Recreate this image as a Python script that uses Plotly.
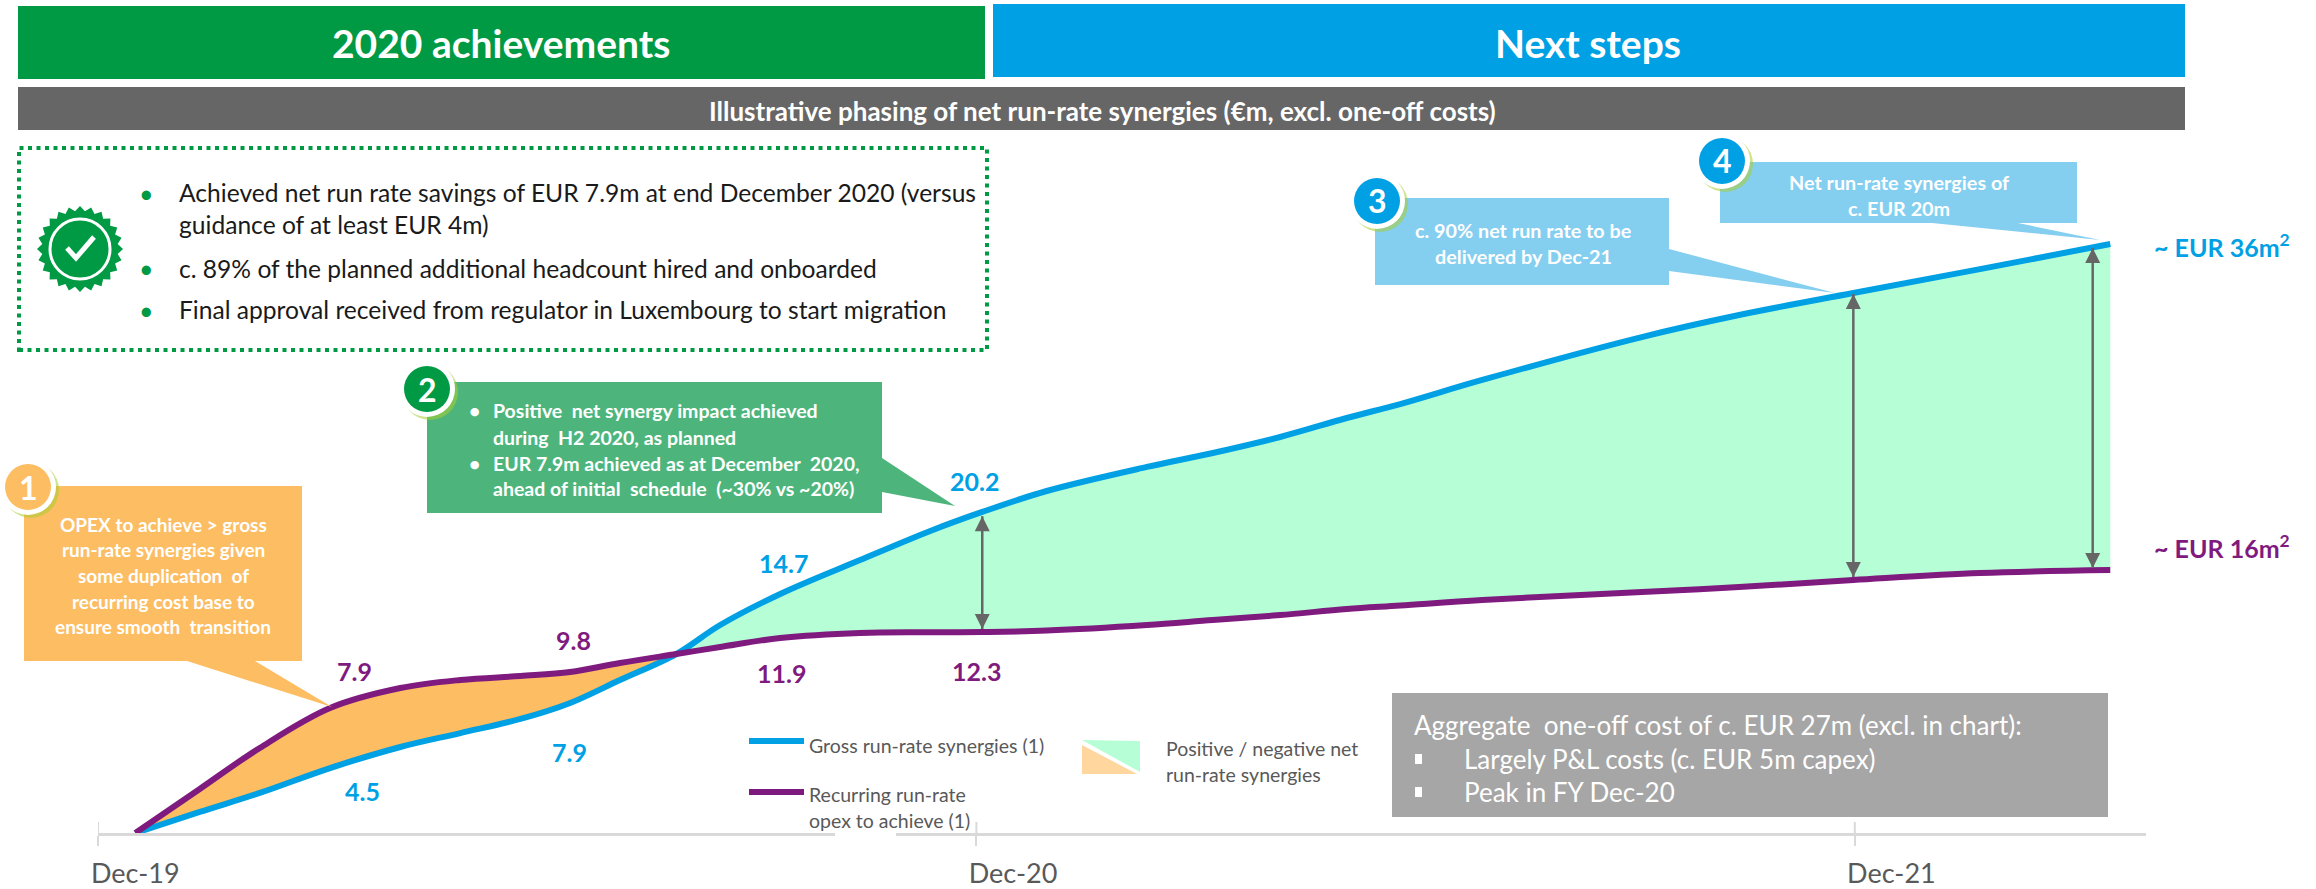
import math
import plotly.graph_objects as go

# ---------- data ----------
months = [0.51, 1.39, 2.21, 3.17, 4.13, 4.95, 5.77, 6.45, 7.13, 7.90, 8.50, 9.32, 10.41, 11.37,
          12.08, 12.96, 14.33, 15.23, 16.15, 17.06, 17.79, 18.91, 21.09, 22.42, 23.98, 25.71, 27.49]
gross = [0, 1.33, 2.53, 4.10, 5.43, 6.31, 7.20, 8.21, 9.66, 11.30, 13.13, 15.09, 17.23, 19.07,
         20.27, 21.59, 23.11, 23.99, 25.0, 26.2, 27.08, 28.6, 31.31, 32.7, 34.09, 35.6, 37.18]
recurring = [0, 2.78, 5.37, 7.89, 9.15, 9.66, 9.91, 10.16, 10.73, 11.30, 11.74, 12.31, 12.63, 12.67,
             12.69, 12.78, 13.13, 13.45, 13.76, 14.14, 14.36, 14.71, 15.21, 15.53, 15.97, 16.41, 16.6]
cross_idx = 9
tick_positions = [0, 12, 24]
label_positions = [0.51, 12.5, 24.5]
tick_labels = ["Dec-19", "Dec-20", "Dec-21"]
arrow_x = [12.08, 23.98, 27.25]
arrow_top = [20.0, 34.03, 36.93]
arrow_bottom = [12.88, 16.16, 16.73]
gross_labels = [("4.5", 362, 791), ("7.9", 569, 752), ("14.7", 783, 563), ("20.2", 974, 481)]
recurring_labels = [("7.9", 354, 671), ("9.8", 573, 640), ("11.9", 781, 673), ("12.3", 976, 671)]

BLUE, PURPLE, GREEN = "#00A1E4", "#7F1B7F", "#009A44"
FILL_G, FILL_O = "#B6FFD6", "#FDBD62"
FONT = "Lato"
L, R, BOTTOM, W, H = 98, 2146, 833, 2316, 889
PX_PER_MONTH, PX_PER_UNIT = 73.2, 15.84


def X(p):
    return (p - L) / (R - L)


def Y(p):
    return (BOTTOM - p) / BOTTOM


fig = go.Figure()
hidden = dict(width=0, shape="spline")
fig.add_trace(go.Scatter(x=months[:cross_idx + 1], y=gross[:cross_idx + 1], mode="lines", line=hidden,
                         hoverinfo="skip", showlegend=False))
fig.add_trace(go.Scatter(x=months[:cross_idx + 1], y=recurring[:cross_idx + 1], mode="lines", line=hidden,
                         fill="tonexty", fillcolor=FILL_O, hoverinfo="skip", showlegend=False))
fig.add_trace(go.Scatter(x=months[cross_idx:], y=recurring[cross_idx:], mode="lines", line=hidden,
                         hoverinfo="skip", showlegend=False))
fig.add_trace(go.Scatter(x=months[cross_idx:], y=gross[cross_idx:], mode="lines", line=hidden,
                         fill="tonexty", fillcolor=FILL_G, hoverinfo="skip", showlegend=False))
fig.add_trace(go.Scatter(x=months, y=gross, mode="lines", name="Gross run-rate synergies (1)",
                         line=dict(color=BLUE, width=6, shape="spline"), showlegend=False))
fig.add_trace(go.Scatter(x=months, y=recurring, mode="lines", name="Recurring run-rate opex to achieve (1)",
                         line=dict(color=PURPLE, width=6, shape="spline"), showlegend=False))

shapes, ann = [], []


def rect(x0, y0, x1, y1, color):
    shapes.append(dict(type="rect", xref="paper", yref="paper", x0=X(x0), x1=X(x1), y0=Y(y0), y1=Y(y1),
                       fillcolor=color, line=dict(width=0)))


def poly(points, color, line=None):
    d = "M " + " L ".join(f"{X(a):.5f},{Y(b):.5f}" for a, b in points) + " Z"
    shapes.append(dict(type="path", xref="paper", yref="paper", path=d, fillcolor=color,
                       line=line or dict(width=0)))


def ellipse(cx, cy, rx, ry, color, line=None):
    shapes.append(dict(type="circle", xref="paper", yref="paper", x0=X(cx - rx), x1=X(cx + rx),
                       y0=Y(cy + ry), y1=Y(cy - ry), fillcolor=color, line=line or dict(width=0)))


def text(s, x, y, size, color, bold=False, anchor="center"):
    t = f"<b>{s}</b>" if bold else s
    ann.append(dict(text=t, xref="paper", yref="paper", x=X(x), y=Y(y), xanchor=anchor, yanchor="middle",
                    showarrow=False, font=dict(family=FONT, size=size, color=color), borderpad=0))


# banners
rect(18, 6, 985, 79, GREEN)
rect(993, 4, 2185, 77, BLUE)
rect(18, 87, 2185, 130, "#666666")
text("2020 achievements", 501, 43, 39, "white", True)
text("Next steps", 1588, 43, 39, "white", True)
text("Illustrative phasing of net run-rate synergies (€m, excl. one-off costs)", 1102, 111, 26, "white", True)

# dotted box
shapes.append(dict(type="rect", xref="paper", yref="paper", x0=X(19), x1=X(987), y0=Y(350), y1=Y(148),
                   line=dict(color=GREEN, width=4, dash="4px,4.5px")))
box_lines = [("Achieved net run rate savings of EUR 7.9m at end December 2020 (versus", 193, True),
             ("guidance of at least EUR 4m)", 225, False),
             ("c. 89% of the planned additional headcount hired and onboarded", 268, True),
             ("Final approval received from regulator in Luxembourg to start migration", 310, True)]
for s, y, bullet in box_lines:
    text(s, 178, y, 24.6, "#1a1a1a", anchor="left")
    if bullet:
        text("•", 146, y, 25, GREEN)

# seal icon
seal = []
for i in range(48):
    a = 2 * math.pi * i / 48
    r = 43 if i % 2 == 0 else 38
    seal.append((80 + r * math.sin(a), 249 - r * math.cos(a)))
poly(seal, GREEN)
ellipse(80, 249, 30, 30, "rgba(0,0,0,0)", dict(color="white", width=3))
shapes.append(dict(type="path", xref="paper", yref="paper",
                   path=f"M {X(67)},{Y(248)} L {X(76)},{Y(258)} L {X(94)},{Y(237)}",
                   line=dict(color="white", width=5)))

# callouts
poly([(24, 486), (302, 486), (302, 661), (255, 661), (332, 707), (187, 661), (24, 661)], FILL_O)
poly([(427, 382), (882, 382), (882, 458), (955, 506), (882, 492), (882, 513), (427, 513)], "#4DB57B")
poly([(1375, 198), (1669, 198), (1669, 249), (1835, 293), (1669, 271), (1669, 285), (1375, 285)], "#84CEF0")
poly([(1720, 162), (2077, 162), (2077, 223), (2018, 223), (2100, 240), (1932, 223), (1720, 223)], "#84CEF0")

for s, y in zip(["OPEX to achieve &gt; gross", "run-rate synergies given", "some duplication  of",
                 "recurring cost base to", "ensure smooth  transition"], [524, 549, 575, 601, 626]):
    text(s, 163, y, 19, "white", True)
for s, y, bullet in [("Positive  net synergy impact achieved", 411, True), ("during  H2 2020, as planned", 437, False),
                     ("EUR 7.9m achieved as at December  2020,", 463, True),
                     ("ahead of initial  schedule  (~30% vs ~20%)", 488, False)]:
    text(s, 492, y, 19.5, "white", True, "left")
    if bullet:
        text("•", 474, y, 19.5, "white", True)
text("c. 90% net run rate to be", 1523, 230, 19.8, "white", True)
text("delivered by Dec-21", 1523, 256, 19.8, "white", True)
text("Net run-rate synergies of", 1899, 182, 19.8, "white", True)
text("c. EUR 20m", 1899, 208, 19.8, "white", True)

# badges
for n, cx, cy, c in [("1", 28, 487, "#FDBD62"), ("2", 427, 389, GREEN), ("3", 1377, 201, BLUE), ("4", 1722, 161, BLUE)]:
    ellipse(cx + 3, cy + 3, 28, 28, "rgba(170,205,50,0.55)")
    ellipse(cx, cy, 28, 28, "white")
    ellipse(cx, cy, 23, 23, c)
    text(n, cx, cy, 32, "white", True)

# grey cost box
rect(1392, 693, 2108, 817, "#A6A6A6")
text("Aggregate  one-off cost of c. EUR 27m (excl. in chart):", 1413, 725, 26, "white", anchor="left")
for s, y in [("Largely P&amp;L costs (c. EUR 5m capex)", 759), ("Peak in FY Dec-20", 792)]:
    rect(1415, y - 5, 1422, y + 5, "white")
    text(s, 1463, y, 26, "white", anchor="left")

# legend (drawn to keep the original position)
rect(835, 825, 896, 842, "white")
for y, c in [(741, BLUE), (792, PURPLE)]:
    shapes.append(dict(type="line", xref="paper", yref="paper", x0=X(749), x1=X(804), y0=Y(y), y1=Y(y),
                       line=dict(color=c, width=6)))
text("Gross run-rate synergies (1)", 808, 745, 19.5, "#595959", anchor="left")
text("Recurring run-rate", 808, 794, 19.5, "#595959", anchor="left")
text("opex to achieve (1)", 808, 820, 19.5, "#595959", anchor="left")
poly([(1082, 740), (1140, 741), (1140, 772)], FILL_G)
poly([(1082, 745), (1082, 774), (1137, 774)], "#FFD79E")
text("Positive / negative net", 1165, 748, 19.5, "#595959", anchor="left")
text("run-rate synergies", 1165, 774, 19.5, "#595959", anchor="left")

# value labels
for s, x, y in gross_labels:
    text(s, x, y, 25, BLUE, True)
for s, x, y in recurring_labels:
    text(s, x, y, 25, PURPLE, True)
text("~ EUR 36m<sup>2</sup>", 2222, 246, 25, BLUE, True)
text("~ EUR 16m<sup>2</sup>", 2222, 547, 25, PURPLE, True)

# double arrows between the curves
for ax, top, bot in zip(arrow_x, arrow_top, arrow_bottom):
    fig.add_trace(go.Scatter(x=[ax, ax], y=[bot, top], mode="lines", line=dict(color="#666666", width=2.5),
                             hoverinfo="skip", showlegend=False))
    px_x = L + ax * PX_PER_MONTH
    tip_t, tip_b = BOTTOM - top * PX_PER_UNIT, BOTTOM - bot * PX_PER_UNIT
    poly([(px_x, tip_t), (px_x - 7.5, tip_t + 15), (px_x + 7.5, tip_t + 15)], "#666666")
    poly([(px_x, tip_b), (px_x - 7.5, tip_b - 15), (px_x + 7.5, tip_b - 15)], "#666666")

# upward part of the tick marks
for t in tick_positions:
    shapes.append(dict(type="line", xref="x", yref="paper", x0=t, x1=t, y0=0, y1=Y(822),
                       line=dict(color="#D9D9D9", width=2)))

fig.update_layout(
    width=W, height=H, margin=dict(l=L, r=W - R, t=0, b=H - BOTTOM), autosize=False,
    paper_bgcolor="white", plot_bgcolor="white", showlegend=False, shapes=shapes, annotations=ann,
    font=dict(family=FONT),
    xaxis=dict(range=[0, (R - L) / PX_PER_MONTH], tickmode="array", tickvals=label_positions, ticktext=tick_labels,
               ticks="", showgrid=False, zeroline=False, showline=True, linecolor="#D9D9D9", linewidth=3,
               tickfont=dict(family=FONT, size=27, color="#595959"), ticklabelstandoff=15,
               minor=dict(tickmode="array", tickvals=tick_positions, ticks="outside", ticklen=10,
                          tickcolor="#D9D9D9", tickwidth=2, showgrid=False)),
    yaxis=dict(range=[0, BOTTOM / PX_PER_UNIT], visible=False, showgrid=False, zeroline=False),
)
fig.write_html("out.html", config=dict(displayModeBar=False),
               post_script="document.body.style.margin='0';document.body.style.overflow='hidden';")
